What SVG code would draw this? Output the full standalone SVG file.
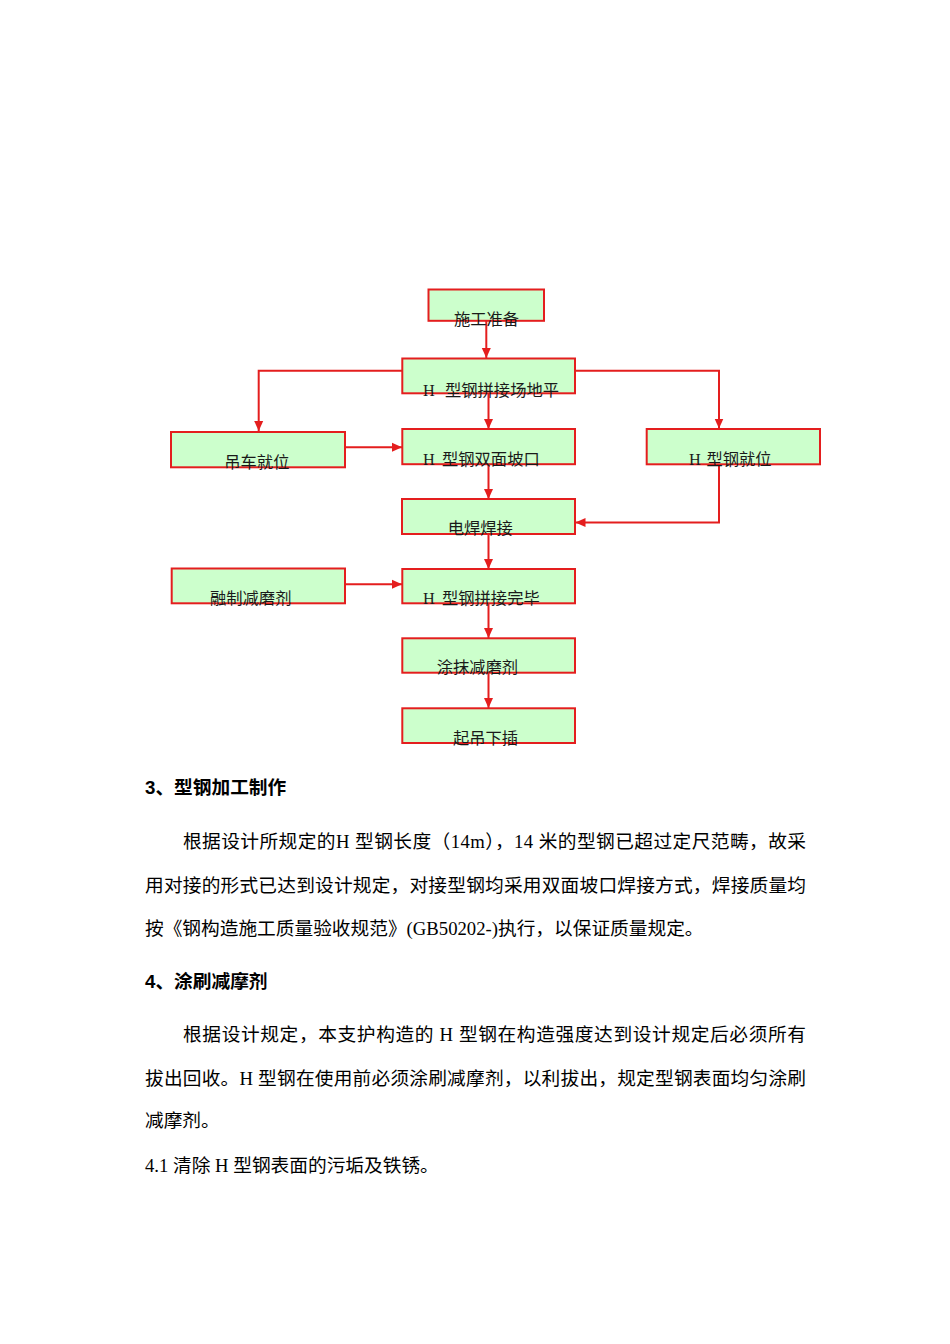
<svg xmlns="http://www.w3.org/2000/svg" width="950" height="1344" viewBox="0 0 950 1344">
<style>
.box{fill:#ccffcc;stroke:#e41e1e;stroke-width:2}
.lbl{font-family:"Noto Sans CJK SC","Liberation Serif",sans-serif;font-size:16.3px;fill:#1a1a1a}
.h{font-family:"Liberation Serif",serif;font-size:16.3px;fill:#1a1a1a}
.conn{fill:none;stroke:#e41e1e;stroke-width:2}
.body{font-family:"Liberation Serif","Noto Sans CJK SC",serif;font-size:18.7px;fill:#000}
.head{font-family:"Liberation Sans","Noto Sans CJK SC",sans-serif;font-size:18.7px;font-weight:bold;fill:#000}
</style>
<defs>
<marker id="arr" markerUnits="userSpaceOnUse" markerWidth="10" markerHeight="10" viewBox="0 0 10 10" refX="10" refY="5" orient="auto">
<path d="M0,0.5 L10,5 L0,9.5 Z" fill="#e41e1e"/>
</marker>
</defs>
<rect width="950" height="1344" fill="#fff"/>

<g id="connectors">
<line class="conn" x1="486.3" y1="321" x2="486.3" y2="358" marker-end="url(#arr)"/>
<line class="conn" x1="488.5" y1="393" x2="488.5" y2="429" marker-end="url(#arr)"/>
<line class="conn" x1="488.5" y1="464" x2="488.5" y2="499" marker-end="url(#arr)"/>
<line class="conn" x1="488.5" y1="534" x2="488.5" y2="569" marker-end="url(#arr)"/>
<line class="conn" x1="488.5" y1="603.5" x2="488.5" y2="638" marker-end="url(#arr)"/>
<line class="conn" x1="488.5" y1="673" x2="488.5" y2="708" marker-end="url(#arr)"/>
<polyline class="conn" points="402,370.7 258.7,370.7 258.7,431" marker-end="url(#arr)"/>
<polyline class="conn" points="575,370.7 719,370.7 719,428.5" marker-end="url(#arr)"/>
<line class="conn" x1="345" y1="447.3" x2="402" y2="447.3" marker-end="url(#arr)"/>
<polyline class="conn" points="719,464.5 719,522.5 575.5,522.5" marker-end="url(#arr)"/>
<line class="conn" x1="345" y1="584.3" x2="402" y2="584.3" marker-end="url(#arr)"/>
</g>

<g id="n1"><rect class="box" x="428.5" y="289.5" width="115.5" height="31.3"/><text class="lbl" x="454" y="325">施工准备</text></g>
<g id="n2"><rect class="box" x="402.3" y="358.5" width="172.7" height="34.8"/><text y="396"><tspan class="h" x="423">H</tspan><tspan class="lbl" x="445">型钢拼接场地平</tspan></text></g>
<g id="n3"><rect class="box" x="171" y="432" width="174" height="35.3"/><text class="lbl" x="224.3" y="468">吊车就位</text></g>
<g id="n4"><rect class="box" x="402.3" y="429" width="172.7" height="35.2"/><text y="464.5"><tspan class="h" x="423">H</tspan><tspan class="lbl" x="442">型钢双面坡口</tspan></text></g>
<g id="n5"><rect class="box" x="646.7" y="429" width="173.3" height="35.3"/><text y="465"><tspan class="h" x="689">H</tspan><tspan class="lbl" x="706.5">型钢就位</tspan></text></g>
<g id="n6"><rect class="box" x="402" y="499" width="173" height="35"/><text class="lbl" x="447.7" y="534">电焊焊接</text></g>
<g id="n7"><rect class="box" x="171.7" y="568.5" width="173.3" height="34.8"/><text class="lbl" x="210" y="604">融制减磨剂</text></g>
<g id="n8"><rect class="box" x="402.3" y="569" width="172.7" height="34.3"/><text y="604"><tspan class="h" x="423">H</tspan><tspan class="lbl" x="442">型钢拼接完毕</tspan></text></g>
<g id="n9"><rect class="box" x="402.3" y="638.3" width="172.7" height="34.4"/><text class="lbl" x="436.7" y="673">涂抹减磨剂</text></g>
<g id="n10"><rect class="box" x="402.3" y="708.3" width="172.7" height="34.7"/><text class="lbl" x="453" y="744">起吊下插</text></g>

<g id="text">
<text class="head" x="145" y="794">3、型钢加工制作</text>
<text class="body" x="183" y="848" textLength="623" lengthAdjust="spacing">根据设计所规定的H 型钢长度（14m），14 米的型钢已超过定尺范畴，故采</text>
<text class="body" x="145" y="892" textLength="661" lengthAdjust="spacing">用对接的形式已达到设计规定，对接型钢均采用双面坡口焊接方式，焊接质量均</text>
<text class="body" x="145" y="935">按《钢构造施工质量验收规范》(GB50202-)执行，以保证质量规定。</text>
<text class="head" x="145" y="988">4、涂刷减摩剂</text>
<text class="body" x="183" y="1041" textLength="623" lengthAdjust="spacing">根据设计规定，本支护构造的 H 型钢在构造强度达到设计规定后必须所有</text>
<text class="body" x="145" y="1085" textLength="661" lengthAdjust="spacing">拔出回收。H 型钢在使用前必须涂刷减摩剂，以利拔出，规定型钢表面均匀涂刷</text>
<text class="body" x="145" y="1127">减摩剂。</text>
<text class="body" x="145" y="1172">4.1 清除 H 型钢表面的污垢及铁锈。</text>
</g>
</svg>
